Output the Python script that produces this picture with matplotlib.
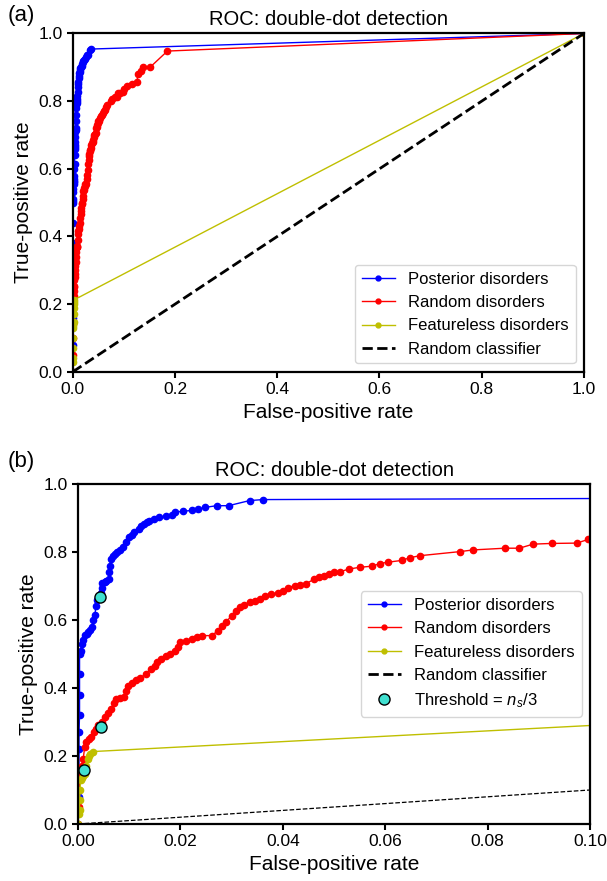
import numpy as np
import matplotlib
matplotlib.use("Agg")
import matplotlib.pyplot as plt
from matplotlib.lines import Line2D

plt.rcParams['font.family'] = ['Liberation Sans', 'DejaVu Sans']
plt.rcParams['mathtext.fontset'] = 'custom'
plt.rcParams['mathtext.rm'] = 'Liberation Sans'
plt.rcParams['mathtext.it'] = 'Liberation Sans:italic'

# ROC curves (false-positive rate, true-positive rate)
fpr_post = [0.0, 0.0001, 0.0002, 0.0002, 0.0002, 0.0003, 0.0003, 0.0003, 0.0003,
            0.0004, 0.0005, 0.0007, 0.0010, 0.0013, 0.0017,
            0.0020, 0.0024, 0.0028, 0.0030, 0.0033, 0.0035, 0.0037, 0.0040, 0.0042,
            0.0045, 0.0046, 0.0047, 0.0052, 0.0055, 0.0060, 0.0061, 0.0062, 0.0064,
            0.0068, 0.0072, 0.0077, 0.0082,
            0.0087, 0.0094, 0.0100, 0.0105, 0.0110, 0.0119, 0.0124, 0.0129, 0.0134,
            0.0139, 0.0148, 0.0158,
            0.0171, 0.0184, 0.0190, 0.0206, 0.0223, 0.0235, 0.0248, 0.0271, 0.0294,
            0.0335, 0.0361, 1.0]
tpr_post = [0.0, 0.08, 0.16, 0.22, 0.27, 0.32, 0.38, 0.44, 0.50,
            0.505, 0.51, 0.53, 0.54, 0.555, 0.56,
            0.565, 0.57, 0.58, 0.60, 0.615, 0.64, 0.66, 0.665, 0.67,
            0.68, 0.695, 0.71, 0.713, 0.715, 0.72, 0.74, 0.76, 0.78,
            0.789, 0.794, 0.799, 0.806,
            0.814, 0.828, 0.843, 0.85, 0.858, 0.868, 0.875, 0.882, 0.887,
            0.892, 0.897, 0.902,
            0.905, 0.909, 0.917, 0.920, 0.922, 0.926, 0.931, 0.936, 0.936,
            0.951, 0.954, 1.0]

fpr_rand = [0.0, 0.0001, 0.0002, 0.0004, 0.0007, 0.0010, 0.0013, 0.0016, 0.0021,
            0.0026, 0.0031, 0.0035, 0.0040, 0.0047, 0.0052, 0.0058, 0.0065, 0.0070,
            0.0074, 0.0082, 0.0090, 0.0094, 0.0097, 0.0105, 0.0113, 0.0122, 0.0132,
            0.0142, 0.0150, 0.0155, 0.0163, 0.0171, 0.0180, 0.0190, 0.0195, 0.0200,
            0.0210, 0.0223, 0.0232, 0.0242, 0.0261, 0.0274, 0.0281, 0.0290, 0.0300,
            0.0308, 0.0316, 0.0325, 0.0335, 0.0345, 0.0355, 0.0365, 0.0377, 0.0390,
            0.0400, 0.0410, 0.0423, 0.0433, 0.0445, 0.0461, 0.0470, 0.0480, 0.0490,
            0.0500, 0.0512, 0.0530, 0.0551, 0.0574, 0.0590, 0.0606, 0.0632, 0.0648,
            0.0668, 0.0746, 0.0772, 0.0834, 0.0862, 0.0889, 0.0925, 0.0974, 0.0997,
            0.105, 0.115, 0.125, 0.128, 0.133, 0.138, 0.151, 0.185, 1.0]
tpr_rand = [0.0, 0.05, 0.10, 0.14, 0.17, 0.19, 0.225, 0.24, 0.25,
            0.255, 0.27, 0.28, 0.29, 0.30, 0.314, 0.325, 0.338, 0.355,
            0.368, 0.370, 0.373, 0.39, 0.407, 0.415, 0.422, 0.43, 0.441,
            0.456, 0.465, 0.475, 0.485, 0.495, 0.50, 0.51, 0.52, 0.534,
            0.538, 0.544, 0.55, 0.554, 0.554, 0.569, 0.583, 0.595, 0.613,
            0.625, 0.637, 0.645, 0.652, 0.655, 0.662, 0.67, 0.676, 0.68,
            0.686, 0.695, 0.701, 0.704, 0.706, 0.72, 0.725, 0.73, 0.735,
            0.74, 0.742, 0.75, 0.755, 0.758, 0.766, 0.770, 0.775, 0.783,
            0.789, 0.801, 0.806, 0.811, 0.811, 0.823, 0.825, 0.826, 0.837,
            0.845, 0.85, 0.857, 0.88, 0.89, 0.90, 0.90, 0.948, 1.0]

fpr_feat = [0.0, 0.0002, 0.0003, 0.0003, 0.0004, 0.0005, 0.0008, 0.0010, 0.0013,
            0.0016, 0.0019, 0.0022, 0.0024, 0.0029, 1.0]
tpr_feat = [0.0, 0.03, 0.04, 0.07, 0.10, 0.13, 0.135, 0.14, 0.147,
            0.17, 0.19, 0.20, 0.205, 0.213, 1.0]

# threshold = n_s/3 points (posterior, random, featureless)
thr_fpr = [0.0042, 0.0045, 0.0011]
thr_tpr = [0.667, 0.284, 0.159]

diag = [0.0, 1.0]

fig = plt.figure(figsize=(6.07, 8.81), dpi=100)
ax1 = fig.add_axes([0.12, 0.578, 0.842, 0.384])
ax2 = fig.add_axes([0.1285, 0.0647, 0.8435, 0.386])

ms = 4.5
for ax, zoomed in [(ax1, False), (ax2, True)]:
    ax.plot(fpr_post, tpr_post, 'bo-', ms=ms, lw=1, label='Posterior disorders')
    ax.plot(fpr_rand, tpr_rand, 'ro-', ms=ms, lw=1, label='Random disorders')
    ax.plot(fpr_feat, tpr_feat, 'yo-', ms=ms, lw=1, label='Featureless disorders')
    handles, labels = ax.get_legend_handles_labels()
    handles = [Line2D([], [], color=h.get_color(), marker='o', ms=3.5, lw=1)
               for h in handles]
    if zoomed:
        ax.plot(diag, diag, 'k--', lw=0.9)
        ax.plot(thr_fpr, thr_tpr, 'o', ms=8, mfc='#40E0D0', mec='k', mew=1.0)
        handles += [Line2D([], [], color='k', ls='--', lw=2),
                    Line2D([], [], ls='none', marker='o', ms=8, mfc='#40E0D0', mec='k')]
        labels += ['Random classifier', 'Threshold = $n_s$/3']
        ax.legend(handles, labels, loc='center right', fontsize=12)
        ax.set_xlim(0, 0.1)
        ax.set_xticks([0.0, 0.02, 0.04, 0.06, 0.08, 0.10])
        ax.set_xticklabels(['0.00', '0.02', '0.04', '0.06', '0.08', '0.10'])
    else:
        ax.plot(diag, diag, 'k--', lw=2)
        handles += [Line2D([], [], color='k', ls='--', lw=2)]
        labels += ['Random classifier']
        ax.legend(handles, labels, loc='lower right', fontsize=12)
        ax.set_xlim(0, 1)
    ax.set_ylim(0, 1)
    ax.set_title('ROC: double-dot detection', fontsize=14.5)
    ax.set_xlabel('False-positive rate', fontsize=15)
    ax.set_ylabel('True-positive rate', fontsize=15)
    ax.tick_params(labelsize=12.5, width=1.5, length=4)
    for s in ax.spines.values():
        s.set_linewidth(1.6)

fig.text(0.012, 0.982, '(a)', fontsize=16, va='center')
fig.text(0.012, 0.476, '(b)', fontsize=16, va='center')

fig.savefig('out.png', dpi=100)
